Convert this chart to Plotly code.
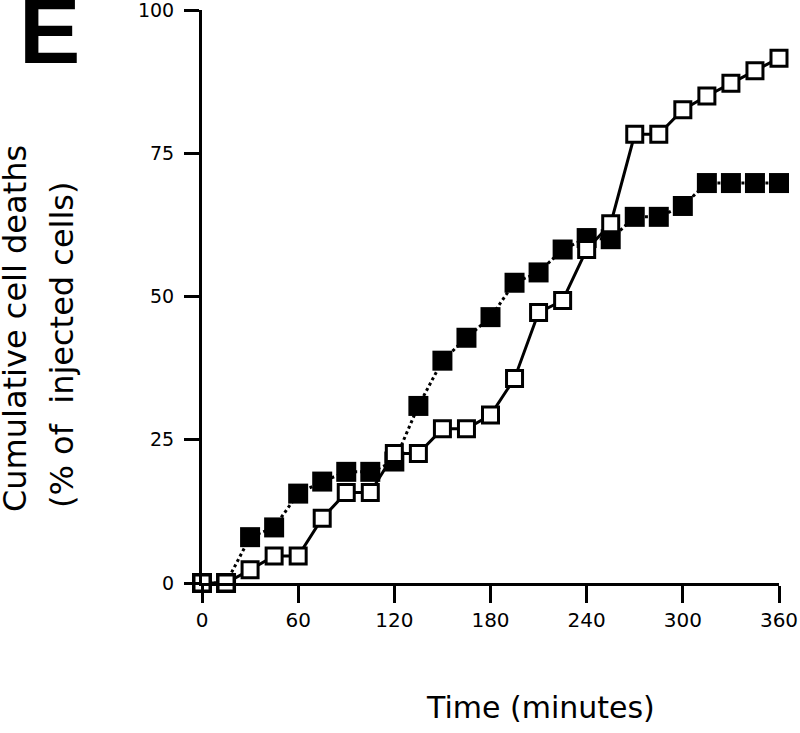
import plotly.graph_objects as go

# Data
time_min = [0, 15, 30, 45, 60, 75, 90, 105, 120, 135, 150, 165, 180, 195,
            210, 225, 240, 255, 270, 285, 300, 315, 330, 345, 360]
open_series = [0, 0, 2.3, 4.7, 4.7, 11.3, 15.8, 15.8, 22.6, 22.6, 26.9, 26.9,
               29.3, 35.7, 47.2, 49.3, 58.2, 62.7, 78.3, 78.3, 82.6, 85.0,
               87.2, 89.4, 91.6]
filled_series = [0, 0, 8.0, 9.7, 15.6, 17.7, 19.4, 19.4, 21.2, 30.9, 38.8,
                 42.8, 46.4, 52.4, 54.2, 58.2, 60.2, 60.0, 63.9, 63.9, 65.8,
                 69.8, 69.8, 69.8, 69.8]
x_ticks = [0, 60, 120, 180, 240, 300, 360]
y_ticks = [0, 25, 50, 75, 100]

W, H = 800, 733
L, R, T, B = 202, 21, 10, 150
pw, ph = W - L - R, H - T - B


def px_x(p):
    return (p - L) / pw


def px_y(p):
    return (H - B - p) / ph


fig = go.Figure()
fig.add_trace(go.Scatter(
    x=time_min, y=filled_series, mode="lines+markers",
    line=dict(color="black", width=3, dash="dot"),
    marker=dict(symbol="square", size=20, color="black", line=dict(width=0)),
    cliponaxis=False, showlegend=False))
fig.add_trace(go.Scatter(
    x=time_min, y=open_series, mode="lines+markers",
    line=dict(color="black", width=3),
    marker=dict(symbol="square", size=16, color="white",
                line=dict(color="black", width=3)),
    cliponaxis=False, showlegend=False))

fig.update_xaxes(range=[0, 360], tickvals=x_ticks, showline=True,
                 linecolor="black", linewidth=3, ticks="outside", ticklen=17,
                 tickwidth=3, tickcolor="black", showgrid=False, zeroline=False,
                 ticklabeloverflow="allow", automargin=False,
                 tickfont=dict(family="DejaVu Sans", size=20, color="black"))
fig.update_yaxes(range=[0, 100], tickvals=y_ticks, showline=True,
                 linecolor="black", linewidth=3, ticks="outside", ticklen=15,
                 tickwidth=3, tickcolor="black", showgrid=False, zeroline=False,
                 ticklabelstandoff=6, ticklabeloverflow="allow", automargin=False,
                 tickfont=dict(family="DejaVu Sans", size=19, color="black"))

annos = [
    dict(text="<b>E</b>", x=px_x(49), y=px_y(31),
         font=dict(family="Liberation Sans", size=92, color="black")),
    dict(text="Cumulative cell deaths", x=px_x(15), y=px_y(329), textangle=-90,
         font=dict(family="DejaVu Sans", size=32, color="black")),
    dict(text="(% of  injected cells)", x=px_x(62), y=px_y(345), textangle=-90,
         font=dict(family="DejaVu Sans", size=32, color="black")),
    dict(text="Time (minutes)", x=px_x(540), y=px_y(707),
         font=dict(family="DejaVu Sans", size=30, color="black")),
]
for a in annos:
    a.update(xref="paper", yref="paper", showarrow=False,
             xanchor="center", yanchor="middle")
    fig.add_annotation(**a)

fig.update_layout(width=W, height=H, margin=dict(l=L, r=R, t=T, b=B),
                  paper_bgcolor="white", plot_bgcolor="white")
fig.write_html("out.html", config={"displayModeBar": False},
               post_script="document.body.style.margin='0';"
                           "document.body.style.overflow='hidden';")
